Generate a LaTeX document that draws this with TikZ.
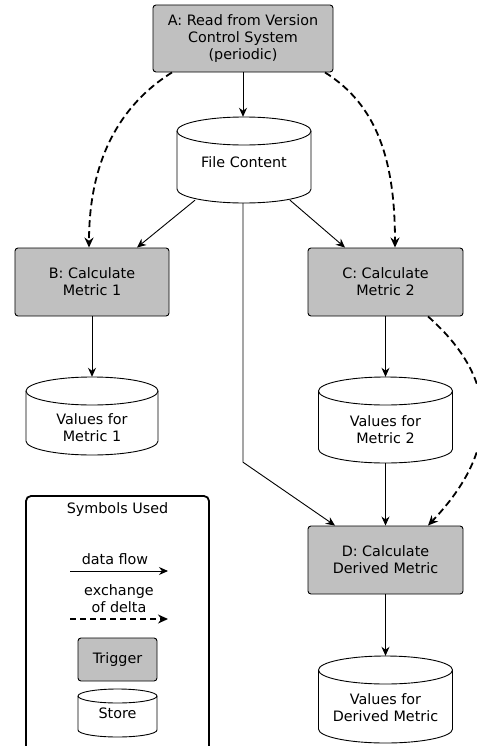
\documentclass[tikz,border=0pt]{standalone}
\usepackage{fontspec}
\setmainfont{DejaVu Sans}
\usetikzlibrary{arrows.meta}
\definecolor{trig}{RGB}{192,192,192}
\tikzset{
  trigger/.style={draw, fill=trig, rounded corners=3bp, align=center, inner sep=0pt, line width=0.9bp},
  flow/.style={line width=0.9bp, -{Stealth[length=9bp,width=8bp]}},
  delta/.style={line width=1.8bp, dash pattern=on 7bp off 4bp, -{Stealth[length=10bp,width=9bp]}},
  lbl/.style={align=center, inner sep=0pt},
  cylline/.style={line width=0.9bp},
}
\newcommand\storecyl[6]{% name, cx, ytop, ybot, rx, ry
  \filldraw[cylline, fill=white] ({#2-#5},{#3+#6}) -- ({#2-#5},{#4-#6})
     arc[start angle=180,end angle=0,x radius=#5,y radius=#6]
     -- ({#2+#5},{#3+#6})
     arc[start angle=0,end angle=-180,x radius=#5,y radius=#6] -- cycle;
  \draw[cylline] ({#2-#5},{#3+#6}) arc[start angle=180,end angle=0,x radius=#5,y radius=#6];
  \node[inner sep=0pt, minimum width=#5*2bp, minimum height=(#4-#3)*1bp] (#1) at (#2,{(#3+#4)/2}) {};
}
\begin{document}
\begin{tikzpicture}[x=1bp,y=-1bp, font=\fontsize{14.4pt}{17pt}\selectfont]
\useasboundingbox (0,0) rectangle (477,746);
\clip (0,0) rectangle (477,746);

% trigger boxes
\node[trigger, minimum width=180bp, minimum height=67bp] (A) at (243,38.5) {A: Read from Version\\Control System\\(periodic)};
\node[trigger, minimum width=154bp, minimum height=68bp] (B) at (92,282) {B: Calculate\\Metric 1};
\node[trigger, minimum width=155bp, minimum height=68bp] (C) at (385.5,282) {C: Calculate\\Metric 2};
\node[trigger, minimum width=155bp, minimum height=68bp] (D) at (385.5,560) {D: Calculate\\Derived Metric};

% stores
\storecyl{fc}{244}{117}{203}{67}{14}
\node[lbl] (fct) at (244,162) {File Content};
\storecyl{v1}{92}{377}{455}{66}{14}
\node[lbl] (v1t) at (92,428) {Values for\\Metric 1};
\storecyl{v2}{385.5}{377}{463}{67}{14}
\node[lbl] (v2t) at (385.5,430) {Values for\\ Metric 2};
\storecyl{vd}{385.5}{656}{743}{67}{14}
\node[lbl] (vdt) at (385.5,708) {Values for\\Derived Metric};

% data flow
\draw[flow] (A.south) -- (A.south |- fc.north);
\draw[flow] ([xshift=-49bp,yshift=3bp]fc.south) -- ([xshift=45bp]B.north);
\draw[flow] ([xshift=46bp,yshift=3bp]fc.south) -- ([xshift=-40.5bp]C.north);
\draw[flow] ([xshift=-1bp]fc.south) -- ++(0,259) -- ([xshift=-50.5bp]D.north);
\draw[flow] (B.south) -- (v1.north);
\draw[flow] (C.south) -- (v2.north);
\draw[flow] (v2.south) -- (D.north);
\draw[flow] (D.south) -- (vd.north);

% exchange of delta
\draw[delta] ([xshift=-71bp]A.south) .. controls (120,105) and (89,160) .. ([xshift=-3bp]B.north);
\draw[delta] ([xshift=82bp]A.south) .. controls (377,105) and (395,160) .. ([xshift=9.5bp]C.north);
\draw[delta] ([xshift=42.5bp]C.south) .. controls (500,380) and (500,450) .. ([xshift=42.5bp]D.north);

% legend
\node[draw, line width=1.8bp, rounded corners=5bp, minimum width=183bp, minimum height=270bp, inner sep=0pt] (leg) at (117.5,631) {};
\node[lbl] (legt) at (117.5,510) {Symbols Used};
\node[lbl] (lflow) at (115,559) {data flow};
\coordinate (l1a) at (70,571);
\coordinate (l1b) at (168,571);
\draw[flow] (l1a) -- (l1b);
\node[lbl] (ldelta) at (119,598.5) {exchange\\of delta};
\coordinate (l2a) at (70,619);
\coordinate (l2b) at (168,619);
\draw[delta, line width=1.5bp, dash pattern=on 6bp off 4bp] (l2a) -- (l2b);
\node[trigger, minimum width=79bp, minimum height=43bp] (ltrig) at (117.5,659.5) {Trigger};
\storecyl{lst}{117.5}{689}{737}{39.5}{7}
\node[lbl] (lstt) at (117.5,713) {Store};
\end{tikzpicture}
\end{document}
